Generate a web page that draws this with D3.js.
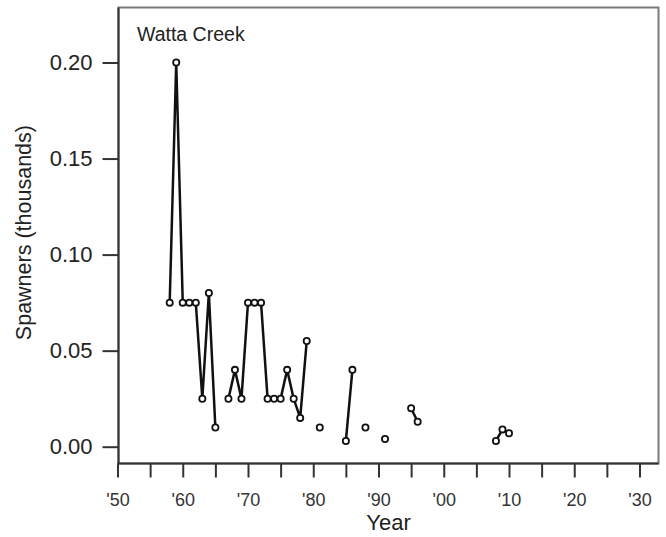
<!DOCTYPE html>
<html><head><meta charset="utf-8">
<script src="https://cdn.jsdelivr.net/npm/d3@7"></script>
<style>body{margin:0;background:#fff}svg{display:block}text{font-family:"Liberation Sans",Arial,sans-serif}</style>
</head><body><svg id="c" width="666" height="537"></svg>
<script>
const title = "Watta Creek";
const years = [1958,1959,1960,1961,1962,1963,1964,1965,1967,1968,1969,1970,1971,1972,1973,1974,1975,1976,1977,1978,1979,1981,1985,1986,1988,1991,1995,1996,2008,2009,2010];
const spawners = [0.075,0.20,0.075,0.075,0.075,0.025,0.08,0.01,0.025,0.04,0.025,0.075,0.075,0.075,0.025,0.025,0.025,0.04,0.025,0.015,0.055,0.01,0.003,0.04,0.01,0.004,0.02,0.013,0.003,0.009,0.007];
const yTicks = [0,0.05,0.10,0.15,0.20];
const xTicks = d3.range(1950,2031,5);
const xLabelYears = d3.range(1950,2031,10);

const svg = d3.select("#c");
const L=118.5, R=658.5, T=7.5, B=463.5;
const x = d3.scaleLinear().domain([1950,2030]).range([117.5,639.5]);
const y = d3.scaleLinear().domain([0,0.20]).range([446.7,62.5]);

// box
svg.append("rect").attr("x",L).attr("y",T).attr("width",R-L).attr("height",B-T)
  .attr("fill","none").attr("stroke","#7a7a7a").attr("stroke-width",2);

// left axis
const ya = svg.append("g").attr("transform",`translate(${L},0)`)
  .call(d3.axisLeft(y).tickValues(yTicks).tickFormat(d3.format(".2f")).tickSize(16).tickPadding(10));
ya.select(".domain").attr("d",`M0,${T}V${B}`).attr("stroke","#333").attr("stroke-width",2);
ya.selectAll(".tick line").attr("stroke","#333").attr("stroke-width",2);
ya.selectAll(".tick text").attr("font-size",22).attr("fill","#222").attr("font-family","Liberation Sans, Arial, sans-serif");

// bottom axis
const xa = svg.append("g").attr("transform",`translate(0,${B})`)
  .call(d3.axisBottom(x).tickValues(xTicks).tickSize(14).tickFormat(d => xLabelYears.includes(d) ? "'" + String(d).slice(2) : ""));
xa.select(".domain").attr("d",`M${x(1950)},0H${R}`).attr("stroke","#333").attr("stroke-width",2);
xa.selectAll(".tick line").attr("stroke","#333").attr("stroke-width",2);
xa.selectAll(".tick text").attr("font-size",18).attr("fill","#333").attr("y",0).attr("dy",0)
  .attr("transform","translate(0,42)").attr("font-family","Liberation Sans, Arial, sans-serif");

// axis titles
svg.append("text").attr("x",(L+R)/2).attr("y",530).attr("text-anchor","middle")
  .attr("font-size",22).attr("fill","#222").text("Year");
svg.append("text").attr("transform",`translate(31,${(62.5+446.7)/2-22}) rotate(-90)`).attr("text-anchor","middle")
  .attr("font-size",21.5).attr("fill","#222").text("Spawners (thousands)");
svg.append("text").attr("x",137).attr("y",41).attr("font-size",19.5).attr("fill","#222").text(title);

// data: segments of consecutive years
const data = years.map((yr,i)=>({yr, v:spawners[i]}));
const segs = [];
data.forEach((d,i)=>{
  if(i===0 || d.yr - data[i-1].yr !== 1) segs.push([d]); else segs[segs.length-1].push(d);
});
const line = d3.line().x(d=>x(d.yr)).y(d=>y(d.v));
svg.append("g").selectAll("path").data(segs.filter(s=>s.length>1)).join("path")
  .attr("d",line).attr("fill","none").attr("stroke","#111").attr("stroke-width",2.5).attr("stroke-linejoin","round");
svg.append("g").selectAll("circle").data(data).join("circle")
  .attr("cx",d=>x(d.yr)).attr("cy",d=>y(d.v)).attr("r",3.1)
  .attr("fill","#fff").attr("stroke","#111").attr("stroke-width",1.8);
</script></body></html>
